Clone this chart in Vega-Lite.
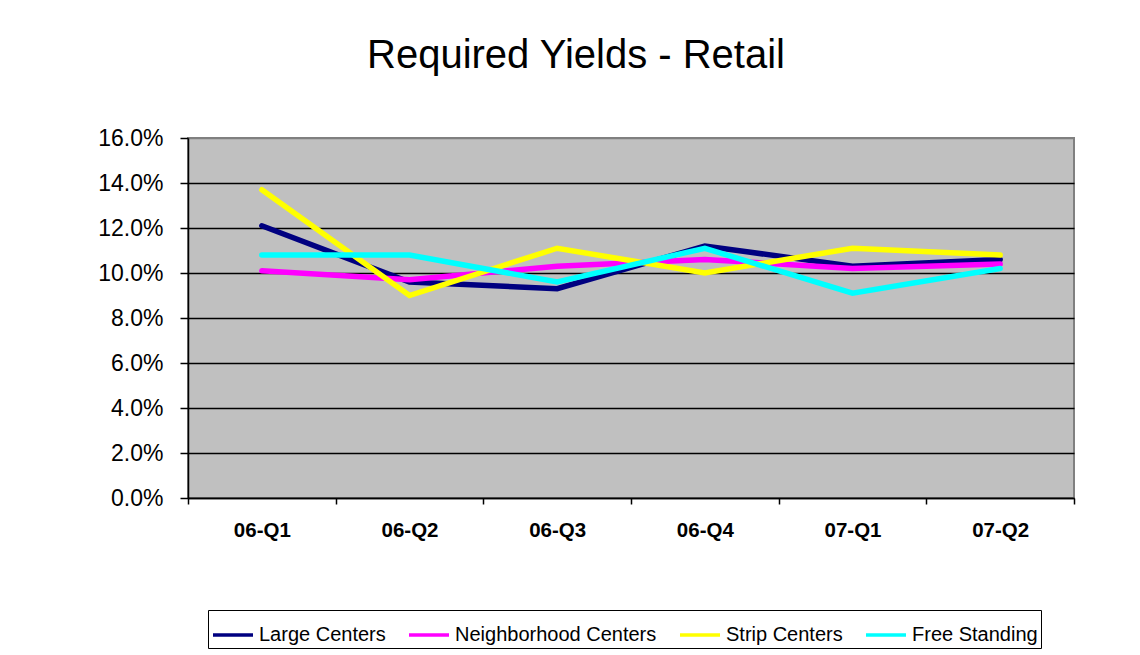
{
  "$schema": "https://vega.github.io/schema/vega-lite/v6.json",
  "autosize": "none",
  "padding": {"left": 188, "top": 138, "right": 66, "bottom": 157},
  "width": 886,
  "height": 360,
  "background": "white",
  "config": {
    "font": "Liberation Sans",
    "view": {"fill": "#C0C0C0", "stroke": "#808080", "strokeWidth": 2},
    "axis": {"domainColor": "black", "tickColor": "black", "labelColor": "black", "domainWidth": 1.5, "tickWidth": 1.5}
  },
  "title": {
    "text": "Required Yields - Retail",
    "fontSize": 40,
    "fontWeight": "normal",
    "color": "black",
    "anchor": "middle",
    "baseline": "alphabetic",
    "offset": 19,
    "dx": -55
  },
  "data": {
    "values": [
      {"q": "06-Q1", "series": "Large Centers", "v": 0.121},
      {"q": "06-Q2", "series": "Large Centers", "v": 0.096},
      {"q": "06-Q3", "series": "Large Centers", "v": 0.093},
      {"q": "06-Q4", "series": "Large Centers", "v": 0.112},
      {"q": "07-Q1", "series": "Large Centers", "v": 0.103},
      {"q": "07-Q2", "series": "Large Centers", "v": 0.106},
      {"q": "06-Q1", "series": "Neighborhood Centers", "v": 0.101},
      {"q": "06-Q2", "series": "Neighborhood Centers", "v": 0.097},
      {"q": "06-Q3", "series": "Neighborhood Centers", "v": 0.103},
      {"q": "06-Q4", "series": "Neighborhood Centers", "v": 0.106},
      {"q": "07-Q1", "series": "Neighborhood Centers", "v": 0.102},
      {"q": "07-Q2", "series": "Neighborhood Centers", "v": 0.104},
      {"q": "06-Q1", "series": "Strip Centers", "v": 0.137},
      {"q": "06-Q2", "series": "Strip Centers", "v": 0.090},
      {"q": "06-Q3", "series": "Strip Centers", "v": 0.111},
      {"q": "06-Q4", "series": "Strip Centers", "v": 0.100},
      {"q": "07-Q1", "series": "Strip Centers", "v": 0.111},
      {"q": "07-Q2", "series": "Strip Centers", "v": 0.108},
      {"q": "06-Q1", "series": "Free Standing", "v": 0.108},
      {"q": "06-Q2", "series": "Free Standing", "v": 0.108},
      {"q": "06-Q3", "series": "Free Standing", "v": 0.096},
      {"q": "06-Q4", "series": "Free Standing", "v": 0.111},
      {"q": "07-Q1", "series": "Free Standing", "v": 0.091},
      {"q": "07-Q2", "series": "Free Standing", "v": 0.102}
    ]
  },
  "mark": {"type": "line", "strokeWidth": 5.5, "strokeCap": "round"},
  "encoding": {
    "x": {
      "field": "q",
      "type": "ordinal",
      "bandPosition": 0.5,
      "scale": {"type": "band", "paddingInner": 0, "paddingOuter": 0},
      "axis": {
        "title": null,
        "labelAngle": 0,
        "labelFontSize": 20.5,
        "labelFontWeight": "bold",
        "labelPadding": 16,
        "tickSize": 6,
        "tickBand": "extent",
        "grid": false
      }
    },
    "y": {
      "field": "v",
      "type": "quantitative",
      "scale": {"domain": [0, 0.16], "nice": false},
      "axis": {
        "title": null,
        "values": [0, 0.02, 0.04, 0.06, 0.08, 0.1, 0.12, 0.14, 0.16],
        "format": ".1%",
        "labelFontSize": 23,
        "labelPadding": 17,
        "tickSize": 8,
        "grid": true,
        "gridColor": {"condition": {"test": "datum.value >= 0.159", "value": "#808080"}, "value": "black"},
        "gridOpacity": 1,
        "gridWidth": 1.5
      }
    },
    "color": {
      "field": "series",
      "type": "nominal",
      "sort": ["Large Centers", "Neighborhood Centers", "Strip Centers", "Free Standing"],
      "scale": {
        "domain": ["Large Centers", "Neighborhood Centers", "Strip Centers", "Free Standing"],
        "range": ["#000080", "#FF00FF", "#FFFF00", "#00FFFF"]
      },
      "legend": {
        "title": null,
        "orient": "none",
        "legendX": 20,
        "legendY": 472,
        "direction": "horizontal",
        "symbolType": "stroke",
        "symbolSize": 1600,
        "symbolStrokeWidth": 3.5,
        "labelFontSize": 20,
        "labelLimit": 400,
        "labelColor": "black",
        "labelOffset": 4,
        "columnPadding": 16,
        "padding": 3,
        "strokeColor": "black",
        "fillColor": "white"
      }
    }
  }
}
